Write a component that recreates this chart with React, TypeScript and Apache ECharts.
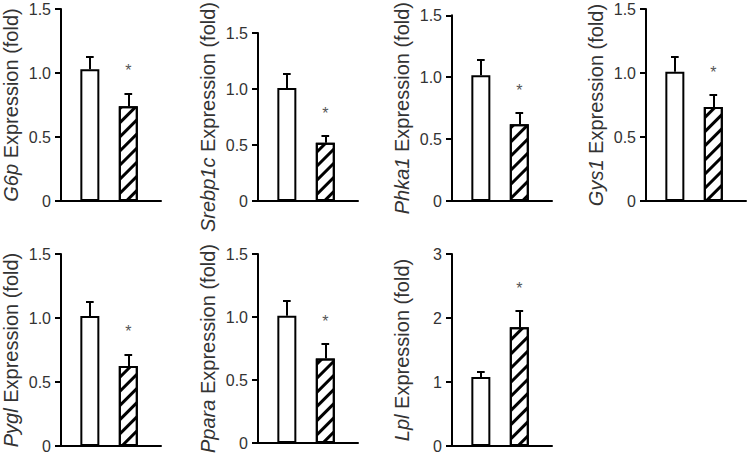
import React, { useEffect, useRef } from "react";
import * as echarts from "echarts";

const genes = ["G6p", "Srebp1c", "Phka1", "Gys1", "Pygl", "Ppara", "Lpl"];
const controlMean = [1.03, 1.01, 1.015, 1.01, 1.015, 1.01, 1.08];
const controlSem = [0.095, 0.125, 0.125, 0.12, 0.115, 0.12, 0.085];
const treatedMean = [0.74, 0.52, 0.62, 0.735, 0.625, 0.67, 1.855];
const treatedSem = [0.1, 0.06, 0.09, 0.095, 0.09, 0.115, 0.255];
const significant = [true, true, true, true, true, true, true];
const yMax = [1.5, 1.5, 1.5, 1.5, 1.5, 1.5, 3];
const yStep = [0.5, 0.5, 0.5, 0.5, 0.5, 0.5, 1];

const colLeft = [61, 258, 452, 646];
const rowTop = [9, 254];
const PANEL_W = 100;
const PANEL_H = 192;
const X_OFFSET = 0.75; // gap before first bar slot, in bar-slot units
const X_SPAN = 2.6;
const CAP_HALF = 0.1; // half width of error-bar cap, in bar-slot units
const FONT = "'Liberation Sans', Arial, sans-serif";

const hatch = {
  symbol: "rect",
  symbolSize: 1,
  color: "#000",
  backgroundColor: "#fff",
  dashArrayX: [1, 0],
  dashArrayY: [3, 7],
  rotation: -Math.PI / 4,
};

export default function App() {
  const ref = useRef<HTMLDivElement>(null);
  useEffect(() => {
    if (!ref.current) return;
    const chart = echarts.init(ref.current, null, { renderer: "svg" });
    const grids: any[] = [];
    const xAxes: any[] = [];
    const yAxes: any[] = [];
    const series: any[] = [];
    genes.forEach((g, i) => {
      const col = i % 4;
      const row = Math.floor(i / 4);
      grids.push({
        left: colLeft[col],
        top: rowTop[row],
        width: PANEL_W,
        height: PANEL_H,
        containLabel: false,
      });
      xAxes.push({
        gridIndex: i,
        type: "value",
        min: 0,
        max: X_SPAN,
        axisLine: { show: true, lineStyle: { color: "#000", width: 2 } },
        axisTick: { show: false },
        axisLabel: { show: false },
        splitLine: { show: false },
      });
      yAxes.push({
        gridIndex: i,
        type: "value",
        min: 0,
        max: yMax[i],
        interval: yStep[i],
        name: `{i|${g}} Expression (fold)`,
        nameLocation: "middle",
        nameRotate: 90,
        nameGap: 40,
        nameTextStyle: {
          color: "#333",
          fontSize: 20,
          fontFamily: FONT,
          rich: {
            i: { fontStyle: "italic", fontSize: 20 },
          },
        },
        axisLine: { show: true, lineStyle: { color: "#000", width: 2 } },
        axisTick: { show: true, length: 6, lineStyle: { color: "#000", width: 2 } },
        axisLabel: {
          color: "#333",
          fontSize: 16,
          fontFamily: FONT,
          margin: 10,
          formatter: (v: number) =>
            yStep[i] < 1 ? (v === 0 ? "0" : v.toFixed(1)) : String(v),
        },
        splitLine: { show: false },
      });
      const groups = [
        { x: 0 + X_OFFSET, mean: controlMean[i], sem: controlSem[i], hatched: false, sig: false },
        { x: 1 + X_OFFSET, mean: treatedMean[i], sem: treatedSem[i], hatched: true, sig: significant[i] },
      ];
      const errLines: any[] = [];
      groups.forEach((b) => {
        const top = b.mean + b.sem;
        errLines.push([{ coord: [b.x, b.mean] }, { coord: [b.x, top] }]);
        errLines.push([{ coord: [b.x - CAP_HALF, top] }, { coord: [b.x + CAP_HALF, top] }]);
      });
      series.push({
        type: "bar",
        xAxisIndex: i,
        yAxisIndex: i,
        barWidth: 19,
        itemStyle: { color: "#fff", borderColor: "#000", borderWidth: 2 },
        data: groups.map((b) => ({
          value: [b.x, b.mean],
          itemStyle: b.hatched
            ? { color: "#fff", borderColor: "#000", borderWidth: 2, decal: hatch }
            : { color: "#fff", borderColor: "#000", borderWidth: 2 },
        })),
        markLine: {
          silent: true,
          symbol: ["none", "none"],
          label: { show: false },
          lineStyle: { color: "#000", width: 2, type: "solid" },
          emphasis: { disabled: true },
          data: errLines,
        },
        markPoint: {
          silent: true,
          symbol: "circle",
          symbolSize: 1,
          itemStyle: { color: "rgba(0,0,0,0)" },
          label: {
            show: true,
            formatter: "*",
            position: "top",
            distance: 14,
            color: "#555",
            fontSize: 16,
            fontFamily: FONT,
          },
          data: groups
            .filter((b) => b.sig)
            .map((b) => ({ coord: [b.x, b.mean + b.sem] })),
        },
      });
    });
    chart.setOption({
      animation: false,
      grid: grids,
      xAxis: xAxes,
      yAxis: yAxes,
      series,
    });
    return () => chart.dispose();
  }, []);
  return (
    <div
      ref={ref}
      style={{ position: "absolute", left: 0, top: 0, width: 750, height: 455 }}
    />
  );
}
